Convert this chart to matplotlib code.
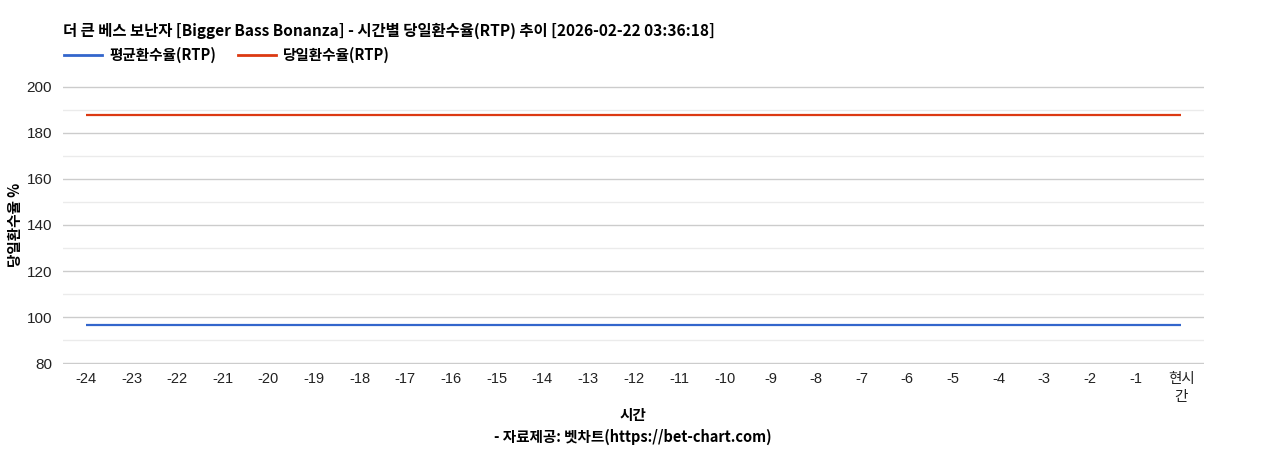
import matplotlib.pyplot as plt
from matplotlib.ticker import MultipleLocator
from matplotlib.lines import Line2D

plt.rcParams['font.family'] = ['Liberation Sans', 'Noto Sans CJK KR', 'DejaVu Sans']

title = '더 큰 베스 보난자 [Bigger Bass Bonanza] - 시간별 당일환수율(RTP) 추이 [2026-02-22 03:36:18]'
hours = [str(h) for h in range(-24, 0)] + ['현시\n간']
avg_rtp = [96.5] * 25
day_rtp = [187.8] * 25

fig = plt.figure(figsize=(12.68, 4.5), dpi=100)
ax = fig.add_axes([63 / 1268, 1 - 364 / 450, (1204 - 63) / 1268, (364 - 86) / 450])

x = list(range(len(hours)))
ax.plot(x, avg_rtp, color='#3366cc', lw=1.6, solid_capstyle='butt', zorder=3)
ax.plot(x, day_rtp, color='#dc3912', lw=1.6, solid_capstyle='butt', zorder=3)

# small margin so the 80 and 200 gridlines are not clipped
ax.set_xlim(-0.5, len(hours) - 0.5)
ax.set_ylim(79.6, 200.4)
ax.yaxis.set_major_locator(MultipleLocator(20))
ax.yaxis.set_minor_locator(MultipleLocator(10))
ax.grid(axis='y', which='major', color='#cccccc', lw=1)
ax.grid(axis='y', which='minor', color='#ebebeb', lw=1)
ax.set_axisbelow(True)
ax.set_xticks(x)
ax.set_xticklabels(hours, family=['Liberation Sans', 'Noto Sans CJK KR'], fontsize=10.5, color='#222222', linespacing=1.35)
ax.tick_params(axis='both', which='both', length=0, labelsize=11, colors='#222222')
ax.tick_params(axis='x', pad=6, labelsize=10.5)
ax.tick_params(axis='y', pad=8)
for s in ax.spines.values():
    s.set_visible(False)

fig.text(15 / 1268, 1 - 225 / 450, '당일환수율 %', family=['Noto Sans CJK KR'], fontsize=10.5,
         fontweight='bold', rotation=90, ha='center', va='center')

fig.text(63 / 1268, 1 - 31 / 450, title, family=['Noto Sans CJK KR'], fontsize=11.1,
         fontweight='bold', va='center', ha='left')

handles = [Line2D([], [], color='#3366cc', lw=2), Line2D([], [], color='#dc3912', lw=2)]
fig.legend(handles, ['평균환수율(RTP)', '당일환수율(RTP)'], loc='center left',
           bbox_to_anchor=(58 / 1268, 1 - 55 / 450), ncol=2, frameon=False,
           prop={'family': ['Noto Sans CJK KR'], 'size': 10.5, 'weight': 'bold'},
           handlelength=2.6, handletextpad=0.5, columnspacing=1.5, borderaxespad=0)

fig.text(633 / 1268, 1 - 415 / 450, '시간', family=['Noto Sans CJK KR'], fontsize=10.5,
         fontweight='bold', ha='center', va='center')
fig.text(633 / 1268, 1 - 437 / 450, '- 자료제공: 벳차트(https://bet-chart.com)', family=['Noto Sans CJK KR'],
         fontsize=10.5, fontweight='bold', ha='center', va='center')

fig.savefig('out.png', dpi=100)
